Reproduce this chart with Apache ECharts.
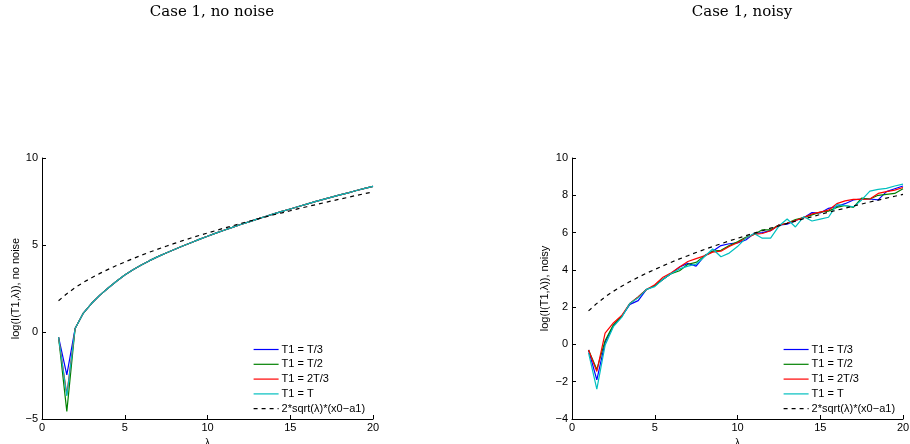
<!DOCTYPE html>
<html>
<head>
<meta charset="utf-8">
<script src="https://cdn.jsdelivr.net/npm/echarts@6/dist/echarts.min.js"></script>
<style>
  html, body { margin: 0; padding: 0; background: #fff; }
  #chart { width: 910px; height: 444px; }
</style>
</head>
<body>
<div id="chart"></div>
<script>
const lambda = [1, 1.5, 2, 2.5, 3, 3.5, 4, 4.5, 5, 5.5, 6, 6.5, 7, 7.5, 8, 8.5, 9, 9.5, 10, 10.5,
  11, 11.5, 12, 12.5, 13, 13.5, 14, 14.5, 15, 15.5, 16, 16.5, 17, 17.5, 18, 18.5, 19, 19.5, 20];

const names = ['T1 = T/3', 'T1 = T/2', 'T1 = 2T/3', 'T1 = T', '2*sqrt(λ)*(x0−a1)'];

// no noise
const cleanT3 = [-0.3, -2.46, 0.2, 1.09, 1.65, 2.12, 2.53, 2.92, 3.28, 3.58, 3.85, 4.10, 4.33, 4.54, 4.74, 4.94, 5.13, 5.32, 5.50, 5.68,
  5.85, 6.01, 6.18, 6.33, 6.49, 6.64, 6.79, 6.93, 7.07, 7.21, 7.35, 7.49, 7.62, 7.75, 7.88, 8.00, 8.13, 8.25, 8.37];
const cleanT2 = [-0.3, -4.56, 0.2, 1.09, 1.65, 2.12, 2.53, 2.92, 3.28, 3.58, 3.85, 4.10, 4.33, 4.54, 4.74, 4.94, 5.13, 5.32, 5.50, 5.68,
  5.85, 6.01, 6.18, 6.33, 6.49, 6.64, 6.79, 6.93, 7.07, 7.21, 7.35, 7.49, 7.62, 7.75, 7.88, 8.00, 8.13, 8.25, 8.37];
const clean2T3 = [-0.3, -3.6, 0.2, 1.09, 1.65, 2.12, 2.53, 2.92, 3.28, 3.58, 3.85, 4.10, 4.33, 4.54, 4.74, 4.94, 5.13, 5.32, 5.50, 5.68,
  5.85, 6.01, 6.18, 6.33, 6.49, 6.64, 6.79, 6.93, 7.07, 7.21, 7.35, 7.49, 7.62, 7.75, 7.88, 8.00, 8.13, 8.25, 8.37];
const cleanT = [-0.3, -3.68, 0.2, 1.09, 1.65, 2.12, 2.53, 2.92, 3.28, 3.58, 3.85, 4.10, 4.33, 4.54, 4.74, 4.94, 5.13, 5.32, 5.50, 5.68,
  5.85, 6.01, 6.18, 6.33, 6.49, 6.64, 6.79, 6.93, 7.07, 7.21, 7.35, 7.49, 7.62, 7.75, 7.88, 8.00, 8.13, 8.25, 8.37];

// noisy
const noisyT3 = [-0.3, -1.9, 0.1, 1.0, 1.5, 2.15, 2.35, 2.95, 3.15, 3.5, 3.8, 4.15, 4.35, 4.2, 4.75, 5.0, 5.3, 5.4, 5.45, 5.6,
  5.95, 6.0, 6.1, 6.4, 6.45, 6.65, 6.8, 7.07, 7.05, 7.3, 7.4, 7.55, 7.75, 7.8, 7.8, 7.75, 8.2, 8.35, 8.5];
const noisyT2 = [-0.3, -1.35, 0.2, 1.05, 1.5, 2.2, 2.55, 2.95, 3.15, 3.5, 3.8, 3.95, 4.3, 4.4, 4.75, 5.0, 5.05, 5.3, 5.5, 5.75,
  5.9, 6.15, 6.15, 6.4, 6.5, 6.7, 6.8, 6.95, 7.1, 7.15, 7.35, 7.45, 7.35, 7.85, 7.8, 8.0, 8.05, 8.1, 8.35];
const noisy2T3 = [-0.3, -1.45, 0.6, 1.15, 1.55, 2.2, 2.55, 2.95, 3.2, 3.6, 3.85, 4.15, 4.45, 4.6, 4.75, 4.95, 5.0, 5.25, 5.45, 5.7,
  5.9, 5.95, 6.1, 6.4, 6.5, 6.65, 6.8, 7.0, 7.1, 7.2, 7.55, 7.7, 7.78, 7.78, 7.8, 8.1, 8.2, 8.28, 8.42];
const noisyT = [-0.45, -2.4, -0.05, 0.95, 1.45, 2.2, 2.5, 2.95, 3.1, 3.5, 3.8, 4.05, 4.2, 4.3, 4.7, 5.12, 4.7, 4.9, 5.25, 5.7,
  5.95, 5.7, 5.7, 6.35, 6.73, 6.3, 6.85, 6.62, 6.72, 6.82, 7.5, 7.45, 7.38, 7.75, 8.22, 8.32, 8.37, 8.5, 8.6];

// reference curve 2*sqrt(lambda)*(x0-a1)
const refCurve = [1.80, 2.20, 2.55, 2.85, 3.12, 3.37, 3.60, 3.82, 4.02, 4.22, 4.41, 4.59, 4.76, 4.93, 5.09, 5.25, 5.40, 5.55, 5.69, 5.83,
  5.97, 6.10, 6.24, 6.36, 6.49, 6.61, 6.74, 6.85, 6.97, 7.09, 7.20, 7.31, 7.42, 7.53, 7.64, 7.74, 7.85, 7.95, 8.05];

const colors = ['#0000ff', '#008000', '#ff0000', '#00bfbf', '#000000'];
const sans = 'Liberation Sans, Arial, sans-serif';

function pairs(ys) {
  return lambda.map((x, i) => [x, ys[i]]);
}

function minus(v) {
  return String(v).replace('-', '\u2212');
}

function makeSeries(sets, idx) {
  return sets.map((ys, i) => ({
    name: names[i],
    type: 'line',
    xAxisIndex: idx,
    yAxisIndex: idx,
    data: pairs(ys),
    symbol: 'none',
    showSymbol: false,
    color: colors[i],
    lineStyle: { color: colors[i], width: 1.2, type: i === 4 ? [4, 4] : 'solid' },
    z: 2 + i
  }));
}

function xAxis(idx) {
  return {
    type: 'value', gridIndex: idx, min: 0, max: 20, interval: 5,
    name: 'λ', nameLocation: 'middle', nameGap: 19,
    nameTextStyle: { fontSize: 10, fontFamily: sans, color: '#000' },
    axisLine: { onZero: false, lineStyle: { color: '#000', width: 1 } },
    axisTick: { inside: true, length: 4, lineStyle: { color: '#000' } },
    axisLabel: { fontSize: 11, fontFamily: sans, color: '#000', margin: 3 },
    splitLine: { show: false }
  };
}

function yAxis(idx, min, max, interval, label, gap) {
  return {
    type: 'value', gridIndex: idx, min: min, max: max, interval: interval,
    name: label, nameLocation: 'middle', nameRotate: 90, nameGap: gap,
    nameTextStyle: { fontSize: 11, fontFamily: sans, color: '#000' },
    axisLine: { show: true, onZero: false, lineStyle: { color: '#000', width: 1 } },
    axisTick: { show: true, inside: true, length: 4, lineStyle: { color: '#000' } },
    axisLabel: { fontSize: 11, fontFamily: sans, color: '#000', margin: 4, formatter: minus },
    splitLine: { show: false }
  };
}

function legend(left) {
  return {
    data: names, orient: 'vertical', left: left, top: 344, padding: 0,
    itemWidth: 25, itemHeight: 10, itemGap: 3.8,
    selectedMode: false,
    itemStyle: { opacity: 0 },
    lineStyle: { width: 1.2 },
    textStyle: { fontSize: 11, fontFamily: sans, color: '#000', padding: [0, 0, 0, -2] }
  };
}

const chart = echarts.init(document.getElementById('chart'), null, { renderer: 'canvas' });
chart.setOption({
  animation: false,
  backgroundColor: '#fff',
  title: [
    { text: 'Case 1, no noise', left: 207, top: 0, textAlign: 'center',
      textStyle: { fontFamily: 'DejaVu Serif', fontWeight: 'normal', fontSize: 15, color: '#000' } },
    { text: 'Case 1, noisy', left: 737, top: 0, textAlign: 'center',
      textStyle: { fontFamily: 'DejaVu Serif', fontWeight: 'normal', fontSize: 15, color: '#000' } }
  ],
  legend: [legend(253), legend(783)],
  grid: [
    { left: 42, top: 158, width: 331, height: 261, outerBoundsMode: 'none' },
    { left: 572, top: 158, width: 331, height: 261, outerBoundsMode: 'none' }
  ],
  xAxis: [xAxis(0), xAxis(1)],
  yAxis: [
    yAxis(0, -5, 10, 5, 'log(I(T1,λ)), no noise', 20),
    yAxis(1, -4, 10, 2, 'log(I(T1,λ)), noisy', 22)
  ],
  series: makeSeries([cleanT3, cleanT2, clean2T3, cleanT, refCurve], 0)
    .concat(makeSeries([noisyT3, noisyT2, noisy2T3, noisyT, refCurve], 1))
});
</script>
</body>
</html>
